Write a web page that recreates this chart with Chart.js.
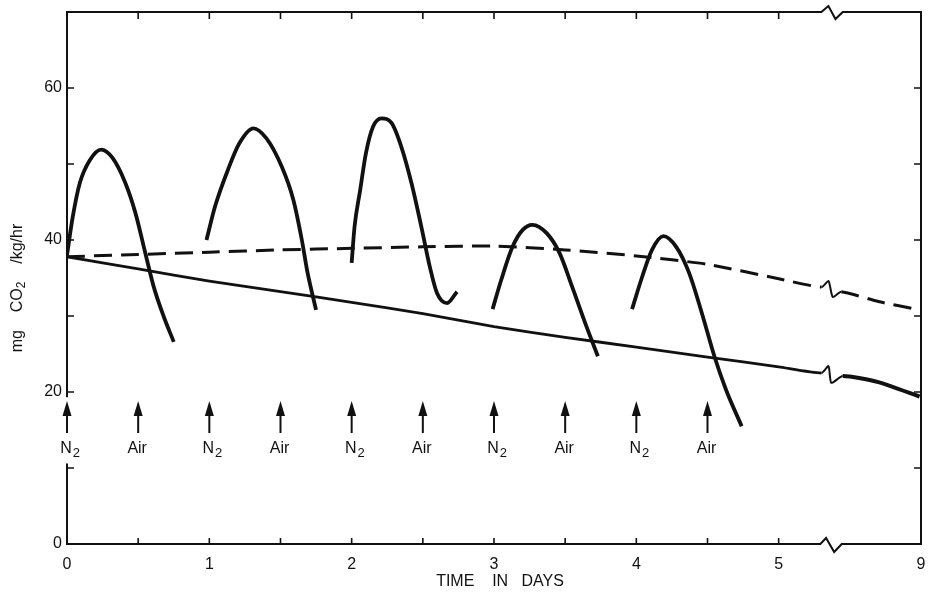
<!DOCTYPE html>
<html>
<head>
<meta charset="utf-8">
<script src="https://cdn.jsdelivr.net/npm/chart.js@4"></script>
<style>
  html, body { margin: 0; padding: 0; background: #fff; }
  canvas { display: block; }
</style>
</head>
<body>
<canvas id="c" width="935" height="601"></canvas>
<script>
// ---------- data (x in axis units: 0..5 days, break, right edge labelled 9) ----------
const xTickValues = [0, 1, 2, 3, 4, 5, 6];
const xTickLabels = ['0', '1', '2', '3', '4', '5', '9'];
const yTickValues = [0, 20, 40, 60];
const yTickLabels = ['0', '20', '40', '60'];

// continuous control curve (solid)
const controlDays = [0, 0.5, 1, 1.5, 2, 2.5, 3, 3.5, 4, 4.5, 5, 5.30, 5.35, 5.37, 5.45, 5.70, 5.99];
const controlRate = [37.8, 36.2, 34.6, 33.2, 31.8, 30.3, 28.6, 27.2, 25.9, 24.6, 23.3, 22.5, 23.4, 21.2, 22.1, 21.3, 19.4];

// dashed curve
const airDays = [0, 0.5, 1, 1.5, 2, 2.5, 3, 3.5, 4, 4.5, 5, 5.30, 5.35, 5.38, 5.44, 5.70, 5.99];
const airRate = [37.8, 38.1, 38.4, 38.7, 38.9, 39.1, 39.2, 38.7, 37.9, 36.8, 34.9, 33.8, 34.6, 32.5, 33.2, 31.9, 30.8];

// N2 / Air cycles
const cycle1Days = [0.0, 0.04, 0.09, 0.16, 0.24, 0.32, 0.41, 0.48, 0.55, 0.61, 0.68, 0.75];
const cycle1Rate = [38.0, 43.0, 47.5, 50.5, 51.9, 50.8, 47.5, 43.6, 38.3, 33.8, 29.9, 26.6];
const cycle2Days = [0.98, 1.04, 1.13, 1.21, 1.31, 1.40, 1.51, 1.59, 1.65, 1.69, 1.75];
const cycle2Rate = [40.0, 44.4, 49.2, 52.7, 54.7, 53.4, 49.6, 45.3, 40.0, 35.7, 30.8];
const cycle3Days = [2.0, 2.02, 2.06, 2.10, 2.15, 2.21, 2.28, 2.35, 2.42, 2.49, 2.55, 2.60, 2.67, 2.74];
const cycle3Rate = [37.0, 41.7, 46.6, 51.4, 54.9, 56.0, 55.4, 52.2, 47.5, 41.7, 36.4, 33.0, 31.7, 33.2];
const cycle4Days = [2.99, 3.05, 3.13, 3.20, 3.27, 3.37, 3.46, 3.55, 3.65, 3.73];
const cycle4Rate = [30.9, 34.7, 39.1, 41.3, 42.0, 40.9, 38.3, 33.8, 28.6, 24.7];
const cycle5Days = [3.97, 4.04, 4.11, 4.19, 4.28, 4.37, 4.46, 4.55, 4.63, 4.74];
const cycle5Rate = [30.9, 35.1, 38.7, 40.5, 39.1, 35.7, 30.4, 24.6, 20.3, 15.5];

// gas switch arrows
const arrowDays = [0, 0.5, 1, 1.5, 2, 2.5, 3, 3.5, 4, 4.5];
const arrowLabels = ['N2', 'Air', 'N2', 'Air', 'N2', 'Air', 'N2', 'Air', 'N2', 'Air'];

const xMinorTicks = [0.5, 1, 1.5, 2, 2.5, 3, 3.5, 4, 4.5, 5];
const yMinorTicks = [10, 20, 30, 40, 50, 60];

const X_MAX = 6, Y_MAX = 70;
const BREAK_START = 5.30, BREAK_END = 5.45;
const FONT = '"Liberation Sans", Arial, Helvetica, sans-serif';
const INK = '#111';

const pts = (xs, ys) => xs.map((v, i) => ({ x: v, y: ys[i] }));
const inBreak = c => c.p0.parsed.x >= BREAK_START - 0.01 && c.p1.parsed.x <= BREAK_END + 0.01;

const cycleStyle = {
  borderColor: INK, borderWidth: 3.8, pointRadius: 0, fill: false,
  cubicInterpolationMode: 'monotone'
};

const datasets = [
  { label: 'control', data: pts(controlDays, controlRate), borderColor: INK, borderWidth: 2.8,
    pointRadius: 0, fill: false, tension: 0.2,
    segment: { borderWidth: c => (c.p0.parsed.x >= BREAK_END - 0.01 ? 4 : (inBreak(c) ? 2 : 2.8)) } },
  { label: 'air', data: pts(airDays, airRate), borderColor: INK, borderWidth: 3,
    borderDash: [18, 9], pointRadius: 0, fill: false, tension: 0.2,
    segment: { borderDash: c => (inBreak(c) ? [] : undefined), borderWidth: c => (inBreak(c) ? 2 : undefined) } },
  Object.assign({ label: 'c1', data: pts(cycle1Days, cycle1Rate) }, cycleStyle),
  Object.assign({ label: 'c2', data: pts(cycle2Days, cycle2Rate) }, cycleStyle),
  Object.assign({ label: 'c3', data: pts(cycle3Days, cycle3Rate) }, cycleStyle),
  Object.assign({ label: 'c4', data: pts(cycle4Days, cycle4Rate) }, cycleStyle),
  Object.assign({ label: 'c5', data: pts(cycle5Days, cycle5Rate) }, cycleStyle)
];

function drawParts(ctx, parts, cx, cy) {
  let w = 0;
  parts.forEach(p => { ctx.font = p.size + 'px ' + FONT; p.w = ctx.measureText(p.t).width; w += p.w; });
  let x = cx - w / 2;
  parts.forEach(p => {
    ctx.font = p.size + 'px ' + FONT;
    ctx.textAlign = 'left';
    ctx.textBaseline = 'middle';
    ctx.fillText(p.t, x, cy + (p.dy || 0));
    x += p.w;
  });
}

const decorPlugin = {
  id: 'decor',
  afterDatasetsDraw(chart) {
    const { ctx, scales: { x, y } } = chart;
    const L = x.getPixelForValue(0), R = x.getPixelForValue(X_MAX);
    const T = y.getPixelForValue(Y_MAX), B = y.getPixelForValue(0);
    const b0 = x.getPixelForValue(BREAK_START), b1 = x.getPixelForValue(BREAK_END);
    const bw = b1 - b0;
    ctx.save();
    ctx.strokeStyle = INK; ctx.fillStyle = INK;
    ctx.lineWidth = 2; ctx.lineJoin = 'miter';
    ctx.beginPath();
    ctx.moveTo(L, T); ctx.lineTo(L, y.getPixelForValue(19.3));
    ctx.moveTo(L, y.getPixelForValue(10.6)); ctx.lineTo(L, B + 1);
    ctx.moveTo(R, T - 1); ctx.lineTo(R, B + 1);
    ctx.moveTo(L - 1, T); ctx.lineTo(b0, T);
    ctx.lineTo(b0 + 0.33 * bw, T - 6); ctx.lineTo(b0 + 0.66 * bw, T + 7); ctx.lineTo(b1, T);
    ctx.lineTo(R + 1, T);
    ctx.moveTo(L - 1, B); ctx.lineTo(b0 - 1, B);
    ctx.lineTo(b0 + 0.22 * bw, B - 6); ctx.lineTo(b0 + 0.6 * bw, B + 8); ctx.lineTo(b1 - 1, B);
    ctx.lineTo(R + 1, B);
    ctx.stroke();

    ctx.lineWidth = 1.6;
    ctx.beginPath();
    yMinorTicks.forEach(v => {
      const py = y.getPixelForValue(v);
      ctx.moveTo(L, py); ctx.lineTo(L + 7, py);
      ctx.moveTo(R, py); ctx.lineTo(R - 7, py);
    });
    xMinorTicks.forEach(v => {
      const px = x.getPixelForValue(v);
      ctx.moveTo(px, T); ctx.lineTo(px, T + 7);
      ctx.moveTo(px, B); ctx.lineTo(px, B - 6);
    });
    ctx.stroke();

    arrowDays.forEach((d, i) => {
      const px = x.getPixelForValue(d);
      const top = y.getPixelForValue(18.8), bot = y.getPixelForValue(14.6);
      ctx.lineWidth = 2;
      ctx.beginPath(); ctx.moveTo(px, top + 10); ctx.lineTo(px, bot); ctx.stroke();
      ctx.beginPath();
      ctx.moveTo(px, top); ctx.lineTo(px - 4.5, top + 15); ctx.lineTo(px + 4.5, top + 15); ctx.closePath();
      ctx.fill();
      const ly = y.getPixelForValue(12.6);
      if (arrowLabels[i] === 'N2') {
        ctx.font = '16px ' + FONT;
        const nw = ctx.measureText('N').width;
        ctx.textAlign = 'left'; ctx.textBaseline = 'middle';
        ctx.fillText('N', px - nw / 2 - 1, ly);
        ctx.font = '13px ' + FONT;
        ctx.fillText('2', px + nw / 2, ly + 5);
      } else {
        ctx.font = '16px ' + FONT;
        ctx.textAlign = 'center'; ctx.textBaseline = 'middle';
        ctx.fillText(arrowLabels[i], px - 1, ly);
      }
    });

    drawParts(ctx, [{ t: 'TIME    IN   DAYS', size: 16 }], (L + R) / 2 + 6, 582);
    ctx.save();
    ctx.translate(18, 288);
    ctx.rotate(-Math.PI / 2);
    drawParts(ctx, [{ t: 'mg    CO', size: 16 }, { t: '2', size: 12, dy: 4 }, { t: '    /kg/hr', size: 16 }], 0, 0);
    ctx.restore();
    ctx.restore();
  }
};

new Chart(document.getElementById('c'), {
  type: 'line',
  data: { datasets },
  options: {
    responsive: false,
    animation: false,
    layout: { padding: { top: 12, right: 14, left: 0, bottom: 0 } },
    plugins: { legend: { display: false }, tooltip: { enabled: false } },
    scales: {
      x: {
        type: 'linear', min: 0, max: X_MAX,
        afterBuildTicks: s => { s.ticks = xTickValues.map(v => ({ value: v })); },
        afterFit: s => { s.height = 57; s.paddingLeft = 0; s.paddingRight = 0; },
        grid: { display: false, drawTicks: false },
        border: { display: false },
        ticks: {
          autoSkip: false, maxRotation: 0, padding: 11, color: INK,
          font: { size: 16, family: FONT },
          callback: v => { const i = xTickValues.indexOf(v); return i >= 0 ? xTickLabels[i] : ''; }
        }
      },
      y: {
        type: 'linear', min: 0, max: Y_MAX,
        afterBuildTicks: s => { s.ticks = yTickValues.map(v => ({ value: v })); },
        afterFit: s => { s.width = 67; s.paddingTop = 0; s.paddingBottom = 0; },
        grid: { display: false, drawTicks: false },
        border: { display: false },
        ticks: {
          padding: 5, color: INK,
          font: { size: 16, family: FONT },
          callback: v => { const i = yTickValues.indexOf(v); return i >= 0 ? yTickLabels[i] : ''; }
        }
      }
    }
  },
  plugins: [decorPlugin]
});
</script>
</body>
</html>
